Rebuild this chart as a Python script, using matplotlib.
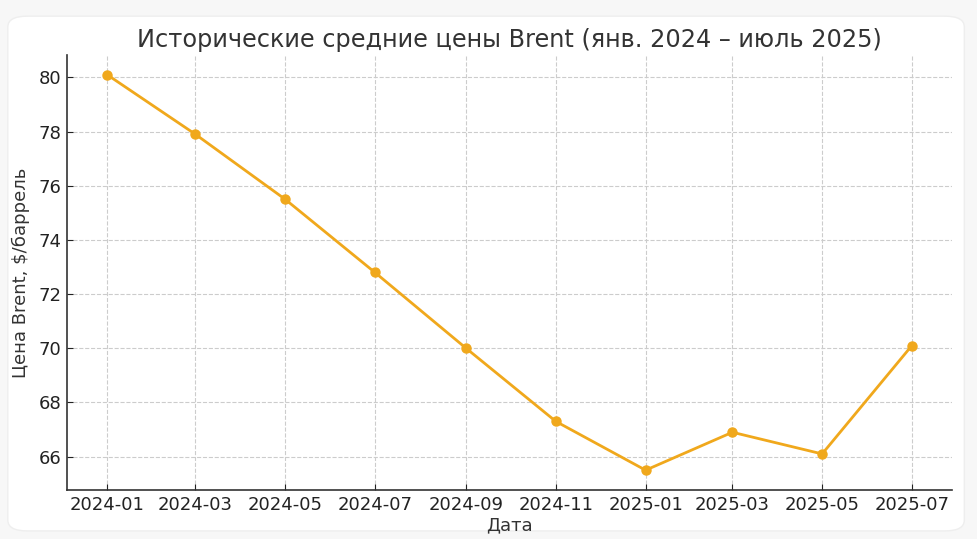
import numpy as np
import pandas as pd
import matplotlib
matplotlib.use("Agg")
import matplotlib.pyplot as plt
import matplotlib.dates as mdates
from matplotlib.patches import FancyBboxPatch

plt.rcParams["font.family"] = ["DejaVu Sans"]

months = ["2024-01", "2024-03", "2024-05", "2024-07", "2024-09",
          "2024-11", "2025-01", "2025-03", "2025-05", "2025-07"]
prices = [80.1, 77.9, 75.5, 72.8, 70.0, 67.3, 65.5, 66.9, 66.1, 70.1]

dates = pd.to_datetime(months, format="%Y-%m")
LINE_COLOR = "#f0a81c"

fig = plt.figure(figsize=(9.78, 5.39), dpi=100, facecolor="#f7f7f7")
frame = FancyBboxPatch((0.008, 0.015), 0.978, 0.955,
                       boxstyle="round,pad=0,rounding_size=0.02",
                       transform=fig.transFigure, facecolor="white",
                       edgecolor="#eeeeee", linewidth=1, zorder=-10)
fig.patches.append(frame)

ax = fig.add_axes([0.0685, 0.091, 0.905, 0.807])
ax.set_facecolor("white")
ax.plot(dates, prices, color=LINE_COLOR, linewidth=2, marker="o", markersize=6.5)

ax.xaxis.set_major_locator(mdates.MonthLocator(bymonth=[1, 3, 5, 7, 9, 11]))
ax.xaxis.set_major_formatter(mdates.DateFormatter("%Y-%m"))
ax.set_yticks([66, 68, 70, 72, 74, 76, 78, 80])

ax.grid(True, linestyle="--", color="#cccccc", linewidth=0.8)
ax.set_axisbelow(True)
for side in ["top", "right"]:
    ax.spines[side].set_visible(False)
for side in ["left", "bottom"]:
    ax.spines[side].set_color("#333333")
    ax.spines[side].set_linewidth(1.2)

ax.tick_params(labelsize=13, colors="#222222", length=4.5, direction="in", pad=4)
ax.set_title("Исторические средние цены Brent (янв. 2024 – июль 2025)",
             fontsize=17.3, color="#333333", pad=6)
ax.set_xlabel("Дата", fontsize=13, color="#333333", labelpad=2)
ax.set_ylabel("Цена Brent, $/баррель", fontsize=13, color="#333333", labelpad=6)

fig.savefig("out.png", dpi=100, facecolor=fig.get_facecolor())
